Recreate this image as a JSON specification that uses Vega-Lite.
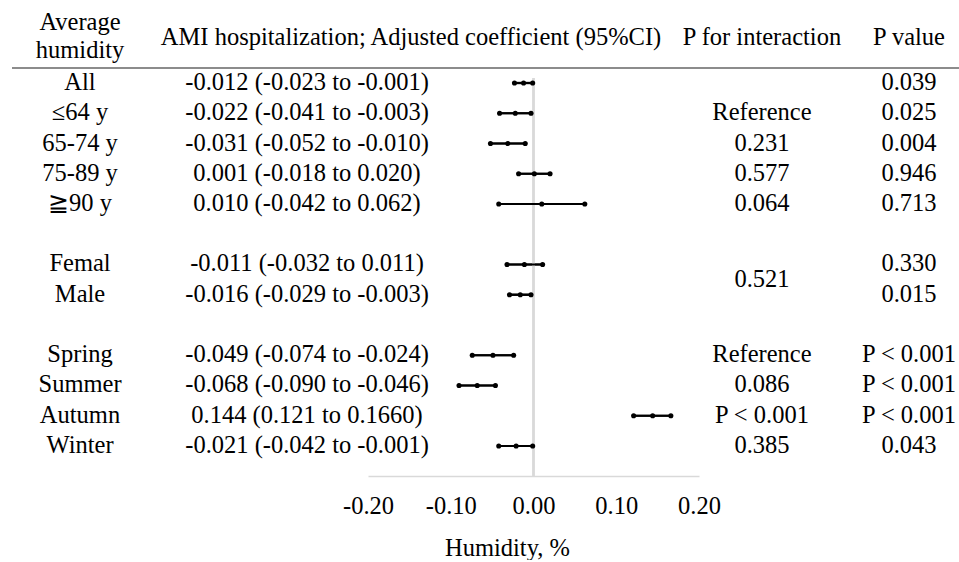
{
  "$schema": "https://vega.github.io/schema/vega-lite/v6.json",
  "width": 959,
  "height": 476,
  "padding": 0,
  "background": "white",
  "config": {
    "view": {"stroke": null},
    "font": "Liberation Serif",
    "text": {"font": "Liberation Serif", "fontSize": 24.5, "color": "black", "baseline": "middle", "align": "center"}
  },
  "datasets": {
    "rows": [
      {"row": 0, "label": "All", "ci": "-0.012 (-0.023 to -0.001)", "pval": "0.039", "est": -0.012, "lo": -0.023, "hi": -0.001},
      {"row": 1, "label": "≤64 y", "ci": "-0.022 (-0.041 to -0.003)", "pval": "0.025", "est": -0.022, "lo": -0.041, "hi": -0.003},
      {"row": 2, "label": "65-74 y", "ci": "-0.031 (-0.052 to -0.010)", "pval": "0.004", "est": -0.031, "lo": -0.052, "hi": -0.010},
      {"row": 3, "label": "75-89 y", "ci": "0.001 (-0.018 to 0.020)", "pval": "0.946", "est": 0.001, "lo": -0.018, "hi": 0.020},
      {"row": 4, "label": "≧90 y", "ci": "0.010 (-0.042 to 0.062)", "pval": "0.713", "est": 0.010, "lo": -0.042, "hi": 0.062},
      {"row": 6, "label": "Femal", "ci": "-0.011 (-0.032 to 0.011)", "pval": "0.330", "est": -0.011, "lo": -0.032, "hi": 0.011},
      {"row": 7, "label": "Male", "ci": "-0.016 (-0.029 to -0.003)", "pval": "0.015", "est": -0.016, "lo": -0.029, "hi": -0.003},
      {"row": 9, "label": "Spring", "ci": "-0.049 (-0.074 to -0.024)", "pval": "P < 0.001", "est": -0.049, "lo": -0.074, "hi": -0.024},
      {"row": 10, "label": "Summer", "ci": "-0.068 (-0.090 to -0.046)", "pval": "P < 0.001", "est": -0.068, "lo": -0.090, "hi": -0.046},
      {"row": 11, "label": "Autumn", "ci": "0.144 (0.121 to 0.1660)", "pval": "P < 0.001", "est": 0.144, "lo": 0.121, "hi": 0.166},
      {"row": 12, "label": "Winter", "ci": "-0.021 (-0.042 to -0.001)", "pval": "0.043", "est": -0.021, "lo": -0.042, "hi": -0.001}
    ],
    "pint": [
      {"row": 1, "text": "Reference"},
      {"row": 2, "text": "0.231"},
      {"row": 3, "text": "0.577"},
      {"row": 4, "text": "0.064"},
      {"row": 6.5, "text": "0.521"},
      {"row": 9, "text": "Reference"},
      {"row": 10, "text": "0.086"},
      {"row": 11, "text": "P < 0.001"},
      {"row": 12, "text": "0.385"}
    ]
  },
  "layer": [
    {
      "data": {"name": "rows"},
      "mark": {"type": "rule", "color": "black", "strokeWidth": 2.2},
      "encoding": {
        "x": {
          "field": "lo", "type": "quantitative",
          "scale": {"domain": [-0.2, 0.2], "range": [368, 699], "nice": false, "zero": false},
          "axis": {
            "title": "Humidity, %",
            "values": [-0.2, -0.1, 0, 0.1, 0.2],
            "labelExpr": "(datum.value < -0.0001 ? '-' : '') + format(abs(datum.value), '.2f')",
            "domainColor": "#d9d9d9", "domainWidth": 1.5,
            "ticks": false, "grid": false,
            "labelFont": "Liberation Serif", "labelFontSize": 24.5, "labelColor": "black",
            "labelPadding": 18, "labelFlush": false, "labelOverlap": false,
            "titleFont": "Liberation Serif", "titleFontSize": 24.5,
            "titleFontWeight": "normal", "titleColor": "black", "titlePadding": 19,
            "titleX": 507, "titleAlign": "center"
          }
        },
        "x2": {"field": "hi"},
        "y": {"field": "row", "type": "quantitative", "scale": {"domain": [-2.744, 12.992], "reverse": true, "nice": false, "zero": false}, "axis": null}
      }
    },
    {
      "data": {"name": "rows"},
      "mark": {"type": "rule", "color": "#8c8c8c", "strokeWidth": 1.5},
      "encoding": {
        "x": {"datum": -0.6302, "type": "quantitative"},
        "x2": {"datum": 0.5142},
        "y": {"datum": -0.496, "type": "quantitative"}
      }
    },
    {
      "data": {"name": "rows"},
      "mark": {"type": "rule", "color": "#d9d9d9", "strokeWidth": 1.5},
      "encoding": {
        "x": {"datum": 0, "type": "quantitative"},
        "y": {"datum": -0.165, "type": "quantitative"},
        "y2": {"datum": 12.99}
      }
    },
    {
      "data": {"name": "rows"},
      "mark": {"type": "rule", "color": "black", "strokeWidth": 2.2},
      "encoding": {
        "x": {"field": "lo", "type": "quantitative"},
        "x2": {"field": "hi"},
        "y": {"field": "row", "type": "quantitative"}
      }
    },
    {
      "data": {"name": "rows"},
      "transform": [{"fold": ["lo", "est", "hi"], "as": ["k", "v"]}],
      "mark": {"type": "point", "filled": true, "shape": "circle", "size": 26, "color": "black", "opacity": 1},
      "encoding": {
        "x": {"field": "v", "type": "quantitative"},
        "y": {"field": "row", "type": "quantitative"}
      }
    },
    {
      "data": {"name": "rows"},
      "mark": {"type": "text", "font": "Liberation Serif", "fontSize": 24.5},
      "encoding": {
        "x": {"datum": -0.548, "type": "quantitative"},
        "y": {"field": "row", "type": "quantitative"},
        "text": {"field": "label"}
      }
    },
    {
      "data": {"name": "rows"},
      "mark": {"type": "text", "font": "Liberation Serif", "fontSize": 24.5},
      "encoding": {
        "x": {"datum": -0.2737, "type": "quantitative"},
        "y": {"field": "row", "type": "quantitative"},
        "text": {"field": "ci"}
      }
    },
    {
      "data": {"name": "pint"},
      "mark": {"type": "text", "font": "Liberation Serif", "fontSize": 24.5},
      "encoding": {
        "x": {"datum": 0.2761, "type": "quantitative"},
        "y": {"field": "row", "type": "quantitative"},
        "text": {"field": "text"}
      }
    },
    {
      "data": {"name": "rows"},
      "mark": {"type": "text", "font": "Liberation Serif", "fontSize": 24.5},
      "encoding": {
        "x": {"datum": 0.4538, "type": "quantitative"},
        "y": {"field": "row", "type": "quantitative"},
        "text": {"field": "pval"}
      }
    },
    {
      "data": {"values": [{"h": "Average\nhumidity"}]},
      "mark": {"type": "text", "font": "Liberation Serif", "fontSize": 24.5, "lineBreak": "\n", "lineHeight": 28},
      "encoding": {
        "x": {"datum": -0.548, "type": "quantitative"},
        "y": {"datum": -2.0, "type": "quantitative"},
        "text": {"field": "h"}
      }
    },
    {
      "data": {"values": [{"h": "AMI hospitalization; Adjusted coefficient (95%CI)"}]},
      "mark": {"type": "text", "font": "Liberation Serif", "fontSize": 24.5},
      "encoding": {
        "x": {"datum": -0.148, "type": "quantitative"},
        "y": {"datum": -1.49, "type": "quantitative"},
        "text": {"field": "h"}
      }
    },
    {
      "data": {"values": [{"h": "P for interaction"}]},
      "mark": {"type": "text", "font": "Liberation Serif", "fontSize": 24.5},
      "encoding": {
        "x": {"datum": 0.2761, "type": "quantitative"},
        "y": {"datum": -1.49, "type": "quantitative"},
        "text": {"field": "h"}
      }
    },
    {
      "data": {"values": [{"h": "P value"}]},
      "mark": {"type": "text", "font": "Liberation Serif", "fontSize": 24.5},
      "encoding": {
        "x": {"datum": 0.4538, "type": "quantitative"},
        "y": {"datum": -1.49, "type": "quantitative"},
        "text": {"field": "h"}
      }
    }
  ]
}
